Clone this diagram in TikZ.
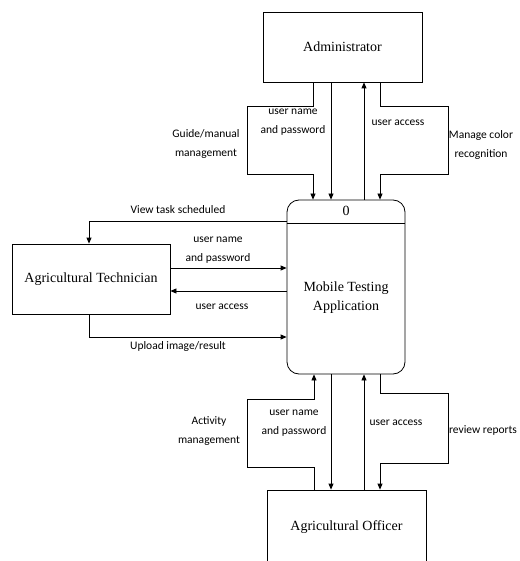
\documentclass[tikz,border=0pt]{standalone}
\usepackage{fontspec}
\setmainfont{Liberation Serif}
\newfontfamily\flowfont{Carlito}
\usetikzlibrary{positioning, arrows.meta}

\begin{document}
\begin{tikzpicture}[x=1pt, y=-1pt]
	\tikzset{entity/.style={rectangle, draw, line width=.8pt, font=\fontsize{14}{16}\selectfont}}
	\tikzset{arr/.style={-{Triangle[length=6pt, width=5pt]}, line width=.8pt}}
	\tikzset{flow/.style={font=\flowfont\fontsize{11.5}{18.5}\selectfont, align=center, inner sep=0pt}}
	\useasboundingbox (0,0) rectangle (519,561);

	\node[entity, minimum width=159pt, minimum height=70pt] (admin) at (342.5,47) {Administrator};
	\node[entity, minimum width=158pt, minimum height=70pt] (tech) at (91,279) {Agricultural Technician};
	\node[entity, minimum width=159pt, minimum height=74pt] (officer) at (346.5,527) {Agricultural Officer};
	\node[draw, line width=.8pt, rounded corners=12pt, minimum width=118pt, minimum height=174pt] (proc) at (346,287) {};
	\draw[line width=.8pt] (proc.west |- 0,223) -- (proc.east |- 0,223);
	\node[font=\fontsize{14}{16}\selectfont] (num) at (346,211) {0};
	\node[font=\fontsize{14}{19}\selectfont, align=center] (ptitle) at (346,298) {Mobile Testing\\Application};

	% administrator
	\draw[arr] (313,0 |- admin.south) -- (313,106) -- (247,106) -- (247,174) -- (313,174) -- (313,0 |- proc.north);
	\draw[arr] (331,0 |- admin.south) -- (331,0 |- proc.north);
	\draw[arr] (364,0 |- proc.north) -- (364,0 |- admin.south);
	\draw[arr] (380,0 |- admin.south) -- (380,106) -- (448,106) -- (448,174) -- (380,174) -- (380,0 |- proc.north);
	\node[flow] at (206,144) {Guide/manual\\management};
	\node[flow] at (293,122) {user name\\and password};
	\node[flow] at (398,123) {user access};
	\node[flow] at (481,145) {Manage color\\recognition};

	% technician
	\draw[arr] (proc.west |- 0,221) -| (tech.north -| 89,0);
	\draw[arr] (tech.east |- 0,268) -- (proc.west |- 0,268);
	\draw[arr] (proc.west |- 0,291) -- (tech.east |- 0,291);
	\draw[arr] (tech.south -| 89,0) |- (proc.west |- 0,337);
	\node[flow] at (178,210) {View task scheduled};
	\node[flow] at (218,250) {user name\\and password};
	\node[flow] at (222,307) {user access};
	\node[flow] at (178,346) {Upload image/result};

	% officer
	\draw[arr] (314,0 |- officer.north) -- (314,467) -- (247,467) -- (247,399) -- (314,399) -- (314,0 |- proc.south);
	\draw[arr] (331,0 |- proc.south) -- (331,0 |- officer.north);
	\draw[arr] (364,0 |- officer.north) -- (364,0 |- proc.south);
	\draw[arr] (380,0 |- proc.south) -- (380,393) -- (448,393) -- (448,463) -- (380,463) -- (380,0 |- officer.north);
	\node[flow] at (209,431) {Activity\\management};
	\node[flow] at (294,423) {user name\\and password};
	\node[flow] at (396,423) {user access};
	\node[flow] at (483,430) {review reports};
\end{tikzpicture}
\end{document}
